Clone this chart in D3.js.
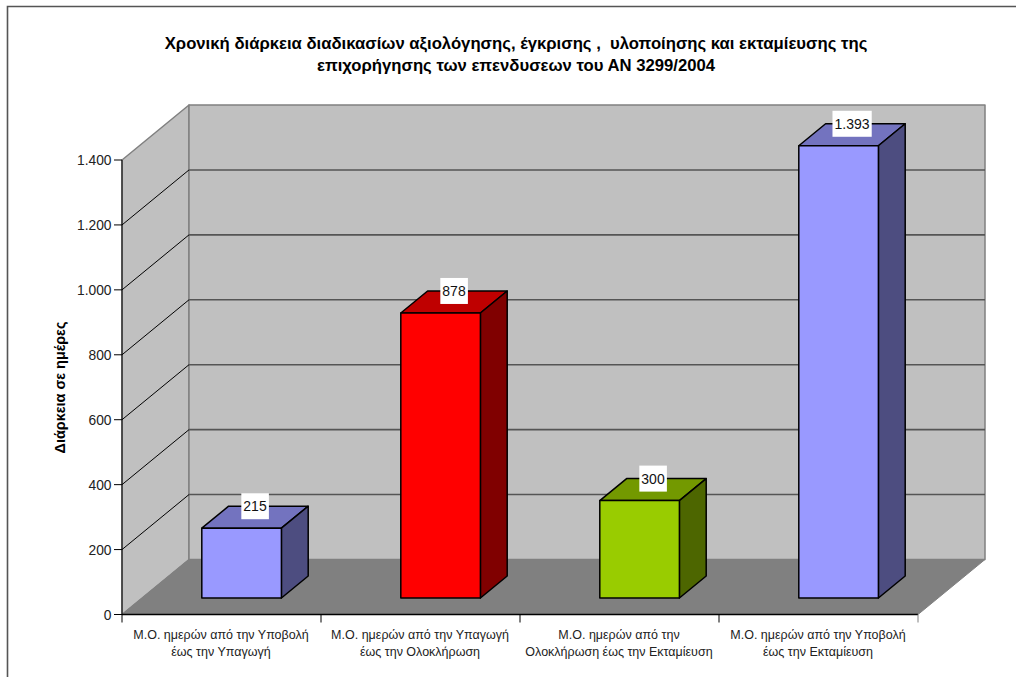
<!DOCTYPE html>
<html><head><meta charset="utf-8">
<script src="https://cdnjs.cloudflare.com/ajax/libs/d3/7.8.5/d3.min.js"></script>
<style>html,body{margin:0;padding:0;background:#fff}svg{display:block}text{font-family:"Liberation Sans",Arial,sans-serif}</style>
</head><body><svg id="c" width="1016" height="677"></svg>
<script>
const categories = [
  ["Μ.Ο. ημερών από την Υποβολή","έως την Υπαγωγή"],
  ["Μ.Ο. ημερών από την Υπαγωγή","έως την Ολοκλήρωση"],
  ["Μ.Ο. ημερών από την","Ολοκλήρωση έως την Εκταμίευση"],
  ["Μ.Ο. ημερών από την Υποβολή","έως την Εκταμίευση"]
];
const values = [215, 878, 300, 1393];
const valueLabels = ["215","878","300","1.393"];
const faceColors = ["#9999ff","#ff0000","#99cc00","#9999ff"];
const topColors = ["#7373bf","#bf0000","#739900","#7373bf"];
const sideColors = ["#4d4d80","#800000","#4d6600","#4d4d80"];
const yTicks = [0,200,400,600,800,1000,1200,1400];
const tickLabels = ["0","200","400","600","800","1.000","1.200","1.400"];
const titleLines = ["Χρονική διάρκεια διαδικασίων αξιολόγησης, έγκρισης ,  υλοποίησης και εκταμίευσης της","επιχορήγησης των επενδυσεων του ΑΝ 3299/2004"];
const yTitle = "Διάρκεια σε ημέρες";

const svg = d3.select("#c");
const dx = 67, dy = 55;
const y = d3.scaleLinear().domain([0,1400]).range([614.5,160]);
const x = d3.scaleBand().domain(d3.range(categories.length)).range([122,918]);
const L = x.range()[0], R = x.range()[1], y0 = y(0), yT = y(1400);
const poly = (pts,fill,stroke,sw)=>svg.append("polygon").attr("points",pts.map(p=>p.join(",")).join(" "))
  .attr("fill",fill).attr("stroke",stroke||"none").attr("stroke-width",sw||0).attr("stroke-linejoin","round");
const line = (a,b,c,d,col,w)=>svg.append("line").attr("x1",a).attr("y1",b).attr("x2",c).attr("y2",d).attr("stroke",col).attr("stroke-width",w);

// frame
svg.append("path").attr("d","M7.5,677V6.5H1016").attr("fill","none").attr("stroke","#555").attr("stroke-width",1.6);

// title
const t = svg.append("text").attr("text-anchor","middle").attr("font-size",16.7).attr("font-weight","bold").attr("fill","#000");
titleLines.forEach((s,i)=>t.append("tspan").attr("x",516).attr("y",49+i*21.5).style("white-space","pre").text(s));

// walls
poly([[L,y0],[L+dx,y0-dy],[L+dx,yT-dy],[L,yT]],"#c0c0c0","#808080",1.5);
poly([[L+dx,y0-dy],[R+dx,y0-dy],[R+dx,yT-dy],[L+dx,yT-dy]],"#c0c0c0","#808080",1.5);
poly([[L,y0],[R,y0],[R+dx,y0-dy],[L+dx,y0-dy]],"#808080","#808080",1);

// gridlines
yTicks.filter(v=>v>0&&v<1400).forEach(v=>{
  line(L,y(v),L+dx,y(v)-dy,"#000",1);
  line(L+dx,y(v)-dy,R+dx,y(v)-dy,"#555",1.6);
});

// axes
line(L,yT,L,y0,"#000",1);
line(L,y0,R,y0,"#000",1.6);
yTicks.forEach((v,i)=>{
  line(L-8,y(v),L,y(v),"#000",1);
  svg.append("text").attr("x",L-10.5).attr("y",y(v)+5).attr("text-anchor","end").attr("font-size",13.8).attr("fill","#222").text(tickLabels[i]);
});
d3.range(categories.length+1).forEach(i=>{
  const px = L + i*x.step();
  line(px,y0,px,y0+8,i==4?"#808080":"#000",1);
});
categories.forEach((c,i)=>c.forEach((s,j)=>{
  svg.append("text").attr("x",x(i)+x.step()/2-0.5).attr("y",638.5+j*17.5).attr("text-anchor","middle").attr("font-size",12.5).attr("fill","#222").text(s);
}));

// y title
svg.append("text").attr("transform","translate(65,387.5) rotate(-90)").attr("text-anchor","middle").attr("font-size",14.4).attr("font-weight","bold").attr("fill","#000").text(yTitle);

// bars
const barW = x.step()*0.4, gx = 0.3, depth = 0.4;
values.forEach((v,i)=>{
  const bx = x(i)+(x.step()-barW)/2+gx*dx, by0 = y0-gx*dy, h = y0-y(v), ex = depth*dx, ey = depth*dy;
  const topY = by0-h, r = bx+barW;
  poly([[bx,topY],[bx+ex,topY-ey],[r+ex,topY-ey],[r,topY]],topColors[i],"#000",1.5);
  poly([[r,topY],[r+ex,topY-ey],[r+ex,by0-ey],[r,by0]],sideColors[i],"#000",1.5);
  poly([[bx,by0],[bx,topY],[r,topY],[r,by0]],faceColors[i],"#000",1.5);
  const cx = bx+barW/2+ex/2, cy = topY-ey;
  const g = svg.append("g");
  const lab = g.append("text").attr("x",cx).attr("y",cy+5).attr("text-anchor","middle").attr("font-size",14).attr("fill","#111").text(valueLabels[i]);
  const b = lab.node().getBBox();
  g.insert("rect","text").attr("x",b.x-2).attr("y",cy-13).attr("width",b.width+4).attr("height",26).attr("fill","#fff");
});
</script></body></html>
